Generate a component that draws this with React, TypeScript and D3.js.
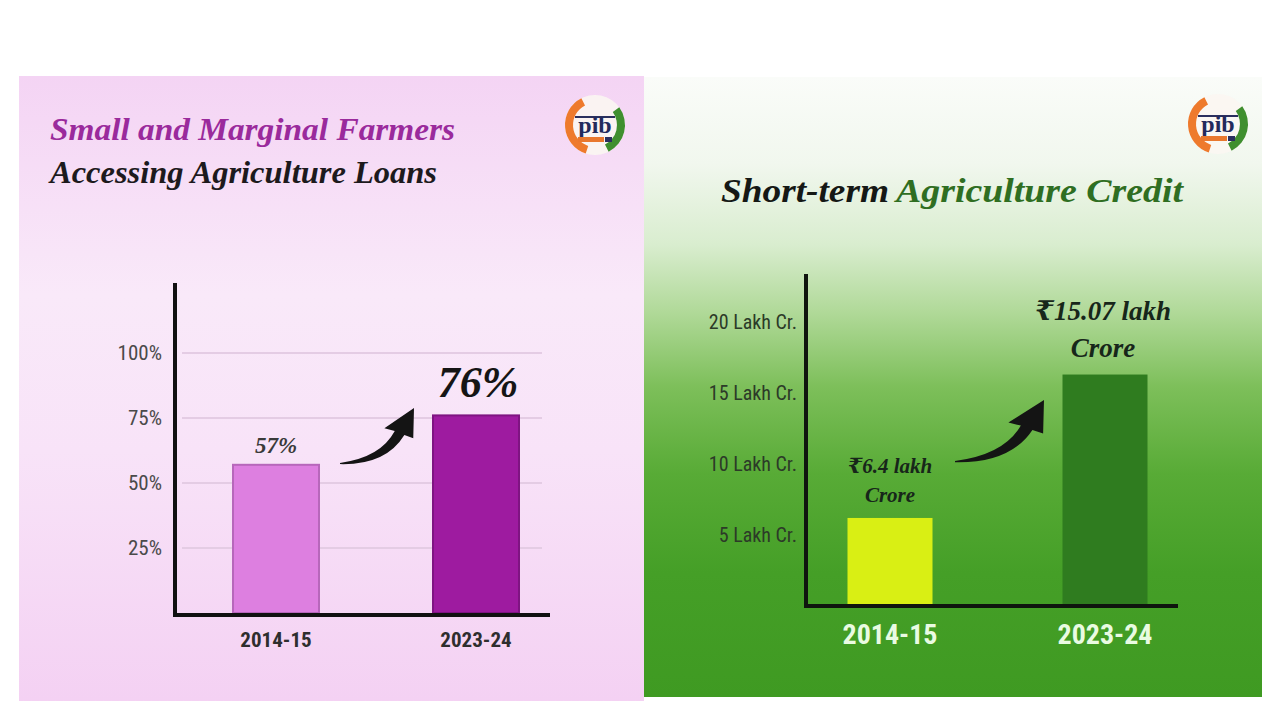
import React from "react";
import * as d3 from "d3";

// ---------- Data ----------
const leftCategories = ["2014-15", "2023-24"];
const leftValues = [57, 76];
const leftValueLabels = ["57%", "76%"];
const leftTicks = [25, 50, 75, 100];
const leftTickLabels = ["25%", "50%", "75%", "100%"];

const rightCategories = ["2014-15", "2023-24"];
const rightValues = [6.2, 16.3];
const rightValueLabels = [["₹6.4 lakh", "Crore"], ["₹15.07 lakh", "Crore"]];
const rightTicks = [5, 10, 15, 20];
const rightTickLabels = ["5 Lakh Cr.", "10 Lakh Cr.", "15 Lakh Cr.", "20 Lakh Cr."];

const NARROW = "'Liberation Sans Narrow', 'Roboto Condensed', 'Arial Narrow', Roboto, sans-serif";
const SCRIPT = "'Liberation Serif', 'DejaVu Serif', serif";

function arrowPath(x0: number, y0: number, x1: number, y1: number) {
  const w = x1 - x0;
  const h = y0 - y1;
  const p = (u: number, v: number) => `${x0 + u * w},${y1 + v * h}`;
  return `M${p(0, 1)} Q${p(0.55, 0.9)} ${p(0.74, 0.42)} L${p(0.6, 0.37)} L${p(1, 0)} L${p(0.99, 0.55)} L${p(0.87, 0.49)} Q${p(0.62, 1.04)} ${p(0, 1.02)} Z`;
}

function Logo({ cx, cy }: { cx: number; cy: number }) {
  const r = 30;
  const arc = d3.arc();
  const orange = arc({ innerRadius: r - 8, outerRadius: r, startAngle: -Math.PI * 0.9, endAngle: -Math.PI * 0.15 }) as string;
  const green = arc({ innerRadius: r - 8, outerRadius: r, startAngle: Math.PI * 0.3, endAngle: Math.PI * 0.85 }) as string;
  return (
    <g transform={`translate(${cx},${cy})`}>
      <circle r={r} fill="#fbf6f2" opacity={0.9} />
      <path d={orange} fill="#ee7a2c" />
      <path d={green} fill="#3f8f2f" />
      <line x1={-20} x2={20} y1={-8} y2={-8} stroke="#2a2f5e" strokeWidth={2} />
      <text x={0} y={8} textAnchor="middle" fontFamily={SCRIPT} fontWeight="bold" fontSize={24} fill="#232a5c">pib</text>
      <rect x={-17} y={12} width={26} height={5} fill="#e9782e" />
      <rect x={10} y={12} width={7} height={5} fill="#2a2f5e" />
    </g>
  );
}

export default function App() {
  // Left chart scales
  const lx = d3.scalePoint<string>().domain(leftCategories).range([276, 476]);
  const ly = d3.scaleLinear().domain([0, 100]).range([613, 353]);
  const lBarW = 86;
  const leftColors = ["#dd7fe0", "#9e1ba0"];
  const leftStroke = ["#b767bb", "#7f1482"];

  // Right chart scales
  const rx = d3.scalePoint<string>().domain(rightCategories).range([890, 1105]);
  const ry = d3.scaleLinear().domain([0, 20]).range([606, 322]);
  const rBarW = 85;
  const rightColors = ["#d9ef14", "#2f7c1f"];

  return (
    <svg width={1280} height={720} style={{ position: "absolute", left: 0, top: 0, display: "block" }}>
      <defs>
        <linearGradient id="pinkBg" x1="0" y1="0" x2="0" y2="1">
          <stop offset="0" stopColor="#f4d4f4" />
          <stop offset="0.35" stopColor="#f9e9f9" />
          <stop offset="0.6" stopColor="#f8e3f8" />
          <stop offset="1" stopColor="#f4d1f3" />
        </linearGradient>
        <linearGradient id="greenBg" x1="0" y1="0" x2="0" y2="1">
          <stop offset="0" stopColor="#fafcf9" />
          <stop offset="0.14" stopColor="#f1f7ee" />
          <stop offset="0.27" stopColor="#d9edcf" />
          <stop offset="0.38" stopColor="#b0d998" />
          <stop offset="0.5" stopColor="#7dbf5a" />
          <stop offset="0.64" stopColor="#58ab36" />
          <stop offset="0.8" stopColor="#459f27" />
          <stop offset="1" stopColor="#3f9a22" />
        </linearGradient>
      </defs>
      <rect x={0} y={0} width={1280} height={720} fill="#ffffff" />

      {/* Left panel */}
      <rect x={19} y={76} width={625} height={625} fill="url(#pinkBg)" />
      <text x={50} y={140} fontFamily={SCRIPT} fontStyle="italic" fontWeight="bold" fontSize={31} fill="#9a2a9c" textLength={405} lengthAdjust="spacingAndGlyphs">Small and Marginal Farmers</text>
      <text x={50} y={183} fontFamily={SCRIPT} fontStyle="italic" fontWeight="bold" fontSize={31} fill="#1d1a1d" textLength={387} lengthAdjust="spacingAndGlyphs">Accessing Agriculture Loans</text>
      <Logo cx={595} cy={125} />

      {leftTicks.map((t, i) => (
        <g key={t}>
          <line x1={182} x2={542} y1={ly(t)} y2={ly(t)} stroke="#e4cce4" strokeWidth={2} />
          <text x={162} y={ly(t)} dy="0.35em" textAnchor="end" fontFamily={NARROW} fontSize={21} fill="#4a4a4a">{leftTickLabels[i]}</text>
        </g>
      ))}
      {leftCategories.map((c, i) => (
        <g key={c}>
          <rect x={(lx(c) as number) - lBarW / 2} y={ly(leftValues[i])} width={lBarW} height={ly(0) - ly(leftValues[i])} fill={leftColors[i]} stroke={leftStroke[i]} strokeWidth={2} />
          <text x={lx(c)} y={647} textAnchor="middle" fontFamily={NARROW} fontWeight="bold" fontSize={21} fill="#2e2e2e">{c}</text>
        </g>
      ))}
      <text x={(lx(leftCategories[0]) as number)} y={ly(leftValues[0]) - 12} textAnchor="middle" fontFamily={SCRIPT} fontStyle="italic" fontWeight="bold" fontSize={23} fill="#3a3a3a">{leftValueLabels[0]}</text>
      <text x={(lx(leftCategories[1]) as number) + 2} y={ly(leftValues[1]) - 18} textAnchor="middle" fontFamily={SCRIPT} fontStyle="italic" fontWeight="bold" fontSize={44} fill="#151515">{leftValueLabels[1]}</text>
      <path d={arrowPath(340, 463, 414, 408)} fill="#141414" />
      <line x1={175} x2={175} y1={283} y2={617} stroke="#111" strokeWidth={4} />
      <line x1={173} x2={550} y1={615} y2={615} stroke="#111" strokeWidth={4} />

      {/* Right panel */}
      <rect x={644} y={77} width={618} height={620} fill="url(#greenBg)" />
      <text x={721} y={202} fontFamily={SCRIPT} fontStyle="italic" fontWeight="bold" fontSize={33} fill="#151815" textLength={168} lengthAdjust="spacingAndGlyphs">Short-term</text>
      <text x={896} y={202} fontFamily={SCRIPT} fontStyle="italic" fontWeight="bold" fontSize={33} fill="#2f6e22" textLength={287} lengthAdjust="spacingAndGlyphs">Agriculture Credit</text>
      <Logo cx={1218} cy={124} />

      {rightTicks.map((t, i) => (
        <text key={t} x={797} y={ry(t)} dy="0.35em" textAnchor="end" fontFamily={NARROW} fontSize={20} fill="#2c3a28">{rightTickLabels[i]}</text>
      ))}
      {rightCategories.map((c, i) => (
        <g key={c}>
          <rect x={(rx(c) as number) - rBarW / 2} y={ry(rightValues[i])} width={rBarW} height={ry(0) - ry(rightValues[i])} fill={rightColors[i]} />
          <text x={rx(c)} y={644} textAnchor="middle" fontFamily={NARROW} fontWeight="bold" fontSize={28} fill="#e9fbe2">{c}</text>
        </g>
      ))}
      {rightValueLabels[0].map((s, j) => (
        <text key={s} x={rx(rightCategories[0]) as number} y={473 + j * 29} textAnchor="middle" fontFamily={SCRIPT} fontStyle="italic" fontWeight="bold" fontSize={21} fill="#17261a">{s}</text>
      ))}
      {rightValueLabels[1].map((s, j) => (
        <text key={s} x={(rx(rightCategories[1]) as number) - 2} y={320 + j * 37} textAnchor="middle" fontFamily={SCRIPT} fontStyle="italic" fontWeight="bold" fontSize={27} fill="#17261a">{s}</text>
      ))}
      <path d={arrowPath(955, 461, 1044, 400)} fill="#141414" />
      <line x1={806} x2={806} y1={274} y2={608} stroke="#0f150e" strokeWidth={4} />
      <line x1={804} x2={1178} y1={606} y2={606} stroke="#0f150e" strokeWidth={4} />
    </svg>
  );
}
